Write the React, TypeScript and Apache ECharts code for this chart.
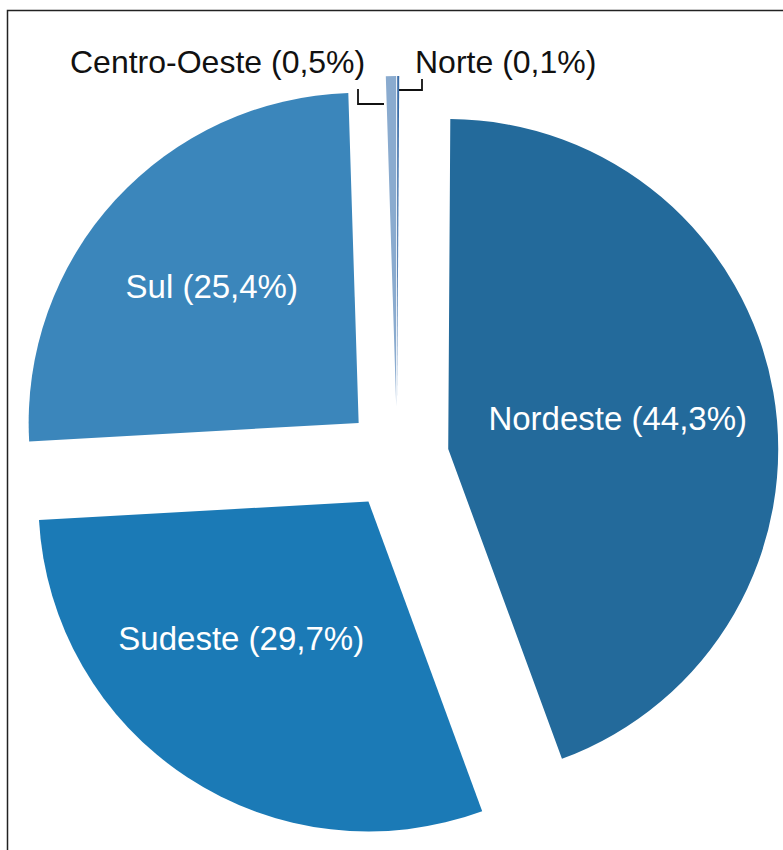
import React, { useEffect, useRef } from "react";
import * as echarts from "echarts";

const categories = ["Norte", "Nordeste", "Sudeste", "Sul", "Centro-Oeste"];
const values = [0.1, 44.3, 29.7, 25.4, 0.5];
const sliceColors = ["#3c6ea8", "#236a9b", "#1b7ab6", "#3b86bb", "#8aabcf"];
const outsideLabel = [true, false, false, false, true];

const FONT = "'Liberation Sans', Arial, Helvetica, sans-serif";
const FONT_SIZE = 33;
const OUTSIDE_FONT_SIZE = 32;

// inside label nudges (pixels)
const insideNudge: Record<number, { dx: number; dy: number }> = {
  1: { dx: 4, dy: -2 },
  2: { dx: -35, dy: -3 },
  3: { dx: -23, dy: -23 },
};

// outside label placement + elbow leader lines (pixels)
const outsidePlacement: Record<number, { x: number; y: number; line: number[][] }> = {
  0: {
    x: 415,
    y: 62,
    line: [
      [398, 90],
      [422, 90],
      [422, 79],
    ],
  },
  4: {
    x: 70,
    y: 62,
    line: [
      [384, 104],
      [358, 104],
      [358, 89],
    ],
  },
};

const fmtLabel = (name: string, v: number) =>
  `${name} (${v.toFixed(1).replace(".", ",")}%)`;

export default function App() {
  const ref = useRef<HTMLDivElement>(null);
  useEffect(() => {
    document.body.style.margin = "0";
    const chart = echarts.init(ref.current!, null, { renderer: "svg" });

    const graphics: any[] = [
      {
        type: "rect",
        shape: { x: 7.5, y: 10.5, width: 820, height: 900 },
        style: { fill: "none", stroke: "#222", lineWidth: 1.5 },
        z: -10,
        silent: true,
      },
    ];
    categories.forEach((name, i) => {
      const p = outsidePlacement[i];
      if (!outsideLabel[i] || !p) return;
      graphics.push({
        type: "text",
        x: p.x,
        y: p.y,
        silent: true,
        style: {
          text: fmtLabel(name, values[i]),
          fontSize: OUTSIDE_FONT_SIZE,
          fontFamily: FONT,
          fill: "#111",
          align: "left",
          verticalAlign: "middle",
        },
      });
      graphics.push({
        type: "polyline",
        silent: true,
        shape: { points: p.line },
        style: { stroke: "#111", lineWidth: 1.8, fill: "none" },
      });
    });

    chart.setOption({
      animation: false,
      backgroundColor: "#ffffff",
      graphic: graphics,
      series: [
        {
          type: "pie",
          center: [397, 458],
          radius: 330,
          startAngle: 90,
          clockwise: true,
          selectedMode: "multiple",
          selectedOffset: 52,
          avoidLabelOverlap: false,
          emphasis: { disabled: true },
          label: {
            position: "inside",
            formatter: (p: any) => fmtLabel(p.name, Number(p.value)),
            fontSize: FONT_SIZE,
            fontFamily: FONT,
            color: "#ffffff",
          },
          labelLine: { show: false },
          labelLayout: (params: any) => insideNudge[params.dataIndex] || {},
          data: categories.map((name, i) => ({
            name,
            value: values[i],
            selected: true,
            itemStyle: { color: sliceColors[i] },
            select: {
              itemStyle: { color: sliceColors[i] },
              label: { show: !outsideLabel[i], color: "#ffffff" },
            },
            label: { show: !outsideLabel[i] },
            labelLine: { show: false },
          })),
        },
      ],
    });
    return () => chart.dispose();
  }, []);
  return <div ref={ref} style={{ width: 783, height: 850 }} />;
}
